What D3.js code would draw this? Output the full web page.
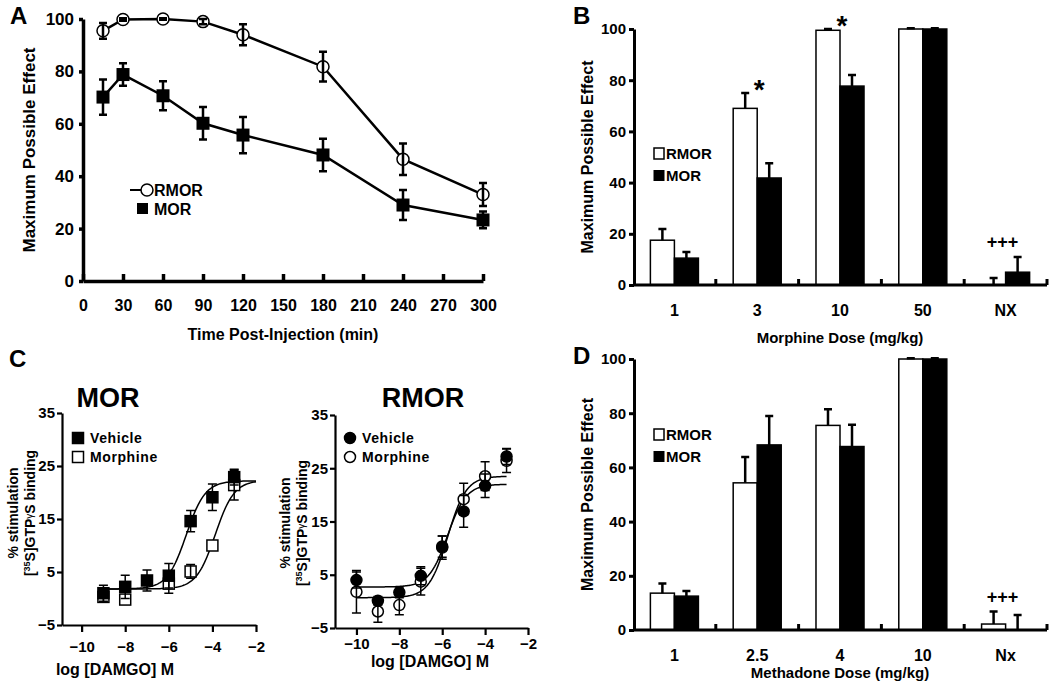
<!DOCTYPE html>
<html>
<head>
<meta charset="utf-8">
<script src="https://cdn.jsdelivr.net/npm/d3@7"></script>
<style>
body { margin: 0; background: #fff; }
text { font-family: "Liberation Sans", Arial, Helvetica, sans-serif; font-weight: bold; fill: #000; }
</style>
</head>
<body>
<script>
// ---- panel A : time course ----
var timeA = [15, 30, 60, 90, 120, 180, 240, 300];
var rmorA = [95.5, 99.8, 100, 99, 94, 81.8, 46.5, 33];
var rmorAErr = [3, 0.5, 0.3, 1, 4, 5.7, 6, 4.4];
var morA = [70.2, 78.8, 70.7, 60.2, 55.7, 48.1, 29, 23.3];
var morAErr = [6.7, 4.3, 5.5, 6.2, 6.9, 6.2, 5.7, 3.2];
var ticksA = d3.range(0, 301, 30);

// ---- panel B : morphine dose ----
var doseB = ["1", "3", "10", "50", "NX"];
var rmorB = [17.5, 69, 99.5, 100, 0];
var rmorBErr = [4.4, 6, 0.5, 0.3, 2.7];
var morB = [10.5, 41.8, 77.7, 100, 5];
var morBErr = [2.4, 5.8, 4.3, 0.3, 5.9];
var sigB = ["", "*", "*", "", "+++"];

// ---- panel D : methadone dose ----
var doseD = ["1", "2.5", "4", "10", "Nx"];
var rmorD = [13.6, 54.3, 75.5, 100, 2.2];
var rmorDErr = [3.6, 9.5, 6, 0.3, 4.6];
var morD = [12.5, 68.3, 67.7, 100, 0];
var morDErr = [1.9, 10.7, 8, 0.3, 5.5];
var sigD = ["", "", "", "", "+++"];

// ---- panel C : [35S]GTPgS binding, log [DAMGO] M ----
var logMorC = [-9, -8, -7, -6, -5, -4, -3];
var morVeh = [1, 2.2, 3.4, 4.3, 14.6, 19.1, 22.9];
var morVehErr = [1.5, 2.2, 2, 2.3, 2, 2.5, 1.5];
var logMorM = [-9, -8, -6, -5, -4, -3];
var morMor = [0.3, -0.2, 2.8, 5.1, 10, 21.4];
var morMorErr = [1, 0, 1.8, 1.3, 0, 2.8];
var morVehFit = [1.8, 22.2, -5.2];   // bottom, top, logEC50
var morMorFit = [1.8, 22.3, -3.87];

var logRmorC = [-10, -9, -8, -7, -6, -5, -4, -3];
var rmorVeh = [4, 0.1, 1.7, 4.8, 10.3, 16.9, 21.7, 27.2];
var rmorVehErr = [1.5, 0.8, 1, 1.7, 2, 3, 2.2, 1.5];
var rmorMor = [1.8, -1.9, -0.7, 3.7, 10.1, 19.2, 23.5, 26.4];
var rmorMorErr = [4, 2, 1.8, 2.5, 2.2, 3, 2.7, 2.2];
var rmorVehFit = [2.7, 22.0, -5.75];
var rmorMorFit = [0.7, 23.5, -5.75];

var svg = d3.select("body").append("svg")
    .attr("width", 1050)
    .attr("height", 688)
    .style("background", "#fff");

function styleAxis(g, w, fs) {
  g.select(".domain").attr("stroke-width", w);
  g.selectAll(".tick line").attr("stroke-width", w);
  g.selectAll(".tick text").attr("font-size", fs).attr("fill", "#000");
}

function letter(t, x, y) {
  svg.append("text").attr("x", x).attr("y", y).attr("font-size", 24).text(t);
}

function errBars(g, xs, ys, es, x, y, cap, w) {
  g.selectAll(null)
    .data(xs.map(function(d, i) { return {x: d, y: ys[i], e: es[i]}; }).filter(function(d) { return d.e > 0; }))
    .enter().append("path")
      .attr("fill", "none")
      .attr("stroke", "#000")
      .attr("stroke-width", w)
      .attr("d", function(d) {
        var px = x(d.x), y0 = y(d.y - d.e), y1 = y(d.y + d.e);
        return "M" + px + "," + y0 + "V" + y1 +
          "M" + (px - cap / 2) + "," + y0 + "H" + (px + cap / 2) +
          "M" + (px - cap / 2) + "," + y1 + "H" + (px + cap / 2);
      });
}

// ================= A =================
letter("A", 10, 24);
var xA = d3.scaleLinear().domain([0, 300]).range([83, 483]);
var yA = d3.scaleLinear().domain([0, 100]).range([281, 19]);

var gAx = svg.append("g").attr("transform", "translate(0,281)")
  .call(d3.axisBottom(xA).tickValues(ticksA).tickSizeInner(-7).tickSizeOuter(0).tickPadding(19));
styleAxis(gAx, 3.5, 16);
var gAy = svg.append("g").attr("transform", "translate(83,0)")
  .call(d3.axisLeft(yA).tickValues(d3.range(0, 101, 20)).tickSizeInner(4).tickSizeOuter(0).tickPadding(5));
styleAxis(gAy, 3.5, 17);

svg.append("text").attr("x", 283).attr("y", 340).attr("text-anchor", "middle")
  .attr("font-size", 16).text("Time Post-Injection (min)");
svg.append("text").attr("transform", "translate(35,150) rotate(-90)").attr("text-anchor", "middle")
  .attr("font-size", 17).text("Maximum Possible Effect");

var lineA = d3.line().x(function(d) { return xA(d[0]); }).y(function(d) { return yA(d[1]); });
var gA = svg.append("g");
gA.append("path").datum(d3.zip(timeA, rmorA)).attr("d", lineA)
  .attr("fill", "none").attr("stroke", "#000").attr("stroke-width", 2.5);
gA.append("path").datum(d3.zip(timeA, morA)).attr("d", lineA)
  .attr("fill", "none").attr("stroke", "#000").attr("stroke-width", 2.5);

gA.selectAll(".msq").data(d3.zip(timeA, morA)).enter().append("rect")
  .attr("x", function(d) { return xA(d[0]) - 6.5; })
  .attr("y", function(d) { return yA(d[1]) - 6.5; })
  .attr("width", 13).attr("height", 13).attr("fill", "#000");
gA.selectAll(".rci").data(d3.zip(timeA, rmorA)).enter().append("circle")
  .attr("cx", function(d) { return xA(d[0]); })
  .attr("cy", function(d) { return yA(d[1]); })
  .attr("r", 6).attr("fill", "#fff").attr("stroke", "#000").attr("stroke-width", 1.5);
errBars(gA, timeA, morA, morAErr, xA, yA, 8, 2.5);
errBars(gA, timeA, rmorA, rmorAErr, xA, yA, 8, 2.5);

// legend A
svg.append("line").attr("x1", 130).attr("x2", 147).attr("y1", 190).attr("y2", 190)
  .attr("stroke", "#000").attr("stroke-width", 2);
svg.append("circle").attr("cx", 147).attr("cy", 190).attr("r", 6)
  .attr("fill", "#fff").attr("stroke", "#000").attr("stroke-width", 1.5);
svg.append("text").attr("x", 154).attr("y", 196).attr("font-size", 16).text("RMOR");
svg.append("rect").attr("x", 137).attr("y", 203).attr("width", 11).attr("height", 11).attr("fill", "#000");
svg.append("text").attr("x", 154).attr("y", 215).attr("font-size", 16).text("MOR");

// ================= B and D : bars =================
function barPanel(cats, rm, rmE, mo, moE, sig, y0, y1, xTitle, titleY, legY) {
  var x = d3.scaleBand().domain(cats).range([633, 1047]).paddingInner(0.42).paddingOuter(0.21);
  var xs = d3.scaleBand().domain(["RMOR", "MOR"]).range([0, x.bandwidth()]);
  var y = d3.scaleLinear().domain([0, 100]).range([y0, y1]);
  var g = svg.append("g");

  var flat = [];
  cats.forEach(function(c, i) {
    flat.push({c: c, s: "RMOR", v: rm[i], e: rmE[i]});
    flat.push({c: c, s: "MOR", v: mo[i], e: moE[i]});
  });

  g.selectAll(".bar").data(flat).enter().append("rect")
    .attr("x", function(d) { return x(d.c) + xs(d.s); })
    .attr("y", function(d) { return y(d.v); })
    .attr("width", xs.bandwidth())
    .attr("height", function(d) { return y(0) - y(d.v); })
    .attr("fill", function(d) { return d.s === "MOR" ? "#000" : "#fff"; })
    .attr("stroke", "#000").attr("stroke-width", 1.5);

  g.selectAll(".err").data(flat.filter(function(d) { return d.e > 0; })).enter().append("path")
    .attr("fill", "none").attr("stroke", "#000").attr("stroke-width", 2.5)
    .attr("d", function(d) {
      var px = x(d.c) + xs(d.s) + xs.bandwidth() / 2, top = y(d.v + d.e);
      return "M" + px + "," + y(d.v) + "V" + top + "M" + (px - 4) + "," + top + "H" + (px + 4);
    });

  // significance marks above the taller bar of each group
  g.selectAll(".sig").data(cats.map(function(c, i) {
      return {c: c, s: sig[i], top: Math.max(rm[i] + rmE[i], mo[i] + moE[i])};
    }).filter(function(d) { return d.s; }))
    .enter().append("text")
      .attr("text-anchor", "middle")
      .attr("x", function(d) { return x(d.c) + x.bandwidth() / 2 + (d.s === "*" ? 2 : -3); })
      .attr("y", function(d) { return d.s === "*" ? y(d.top) + 6 : y(d.top) - 9; })
      .attr("font-size", function(d) { return d.s === "*" ? 28 : 18; })
      .text(function(d) { return d.s; });

  // axes
  var gx = svg.append("g").attr("transform", "translate(0," + y0 + ")");
  gx.append("path").attr("d", "M634,0H1047").attr("stroke", "#000").attr("stroke-width", 3);
  gx.selectAll(".bt").data(cats).enter().append("line")
    .attr("x1", function(d) { return x(d) + x.bandwidth() + x.step() * 0.21; })
    .attr("x2", function(d) { return x(d) + x.bandwidth() + x.step() * 0.21; })
    .attr("y1", 0).attr("y2", -6).attr("stroke", "#000").attr("stroke-width", 3);
  gx.selectAll(".lab").data(cats).enter().append("text")
    .attr("x", function(d) { return x(d) + x.bandwidth() / 2; })
    .attr("y", 31).attr("text-anchor", "middle").attr("font-size", 16)
    .text(function(d) { return d; });
  var gy = svg.append("g").attr("transform", "translate(634,0)")
    .call(d3.axisLeft(y).tickValues(d3.range(0, 101, 20)).tickSizeInner(5).tickSizeOuter(0).tickPadding(3));
  styleAxis(gy, 3, 15);

  svg.append("text").attr("x", 840).attr("y", titleY).attr("text-anchor", "middle")
    .attr("font-size", 15).text(xTitle);
  svg.append("text").attr("transform", "translate(593," + ((y0 + y1) / 2) + ") rotate(-90)")
    .attr("text-anchor", "middle").attr("font-size", 16).text("Maximum Possible Effect");

  // legend
  svg.append("rect").attr("x", 654).attr("y", legY - 11).attr("width", 10).attr("height", 11)
    .attr("fill", "#fff").attr("stroke", "#000").attr("stroke-width", 1.5);
  svg.append("text").attr("x", 666).attr("y", legY).attr("font-size", 15).text("RMOR");
  svg.append("rect").attr("x", 653.5).attr("y", legY + 11).attr("width", 11).attr("height", 11).attr("fill", "#000");
  svg.append("text").attr("x", 666).attr("y", legY + 22).attr("font-size", 15).text("MOR");
}

letter("B", 573, 24);
barPanel(doseB, rmorB, rmorBErr, morB, morBErr, sigB, 285, 29, "Morphine Dose (mg/kg)", 343, 159);
letter("D", 573, 364);
barPanel(doseD, rmorD, rmorDErr, morD, morDErr, sigD, 630, 359, "Methadone Dose (mg/kg)", 678, 440);

// ================= C : concentration response =================
function sigmoid(p) {
  return function(lx) { return p[0] + (p[1] - p[0]) / (1 + Math.pow(10, p[2] - lx)); };
}

function concPanel(cfg) {
  var x = d3.scaleLinear().domain([cfg.xmin, -2]).range([cfg.x0, cfg.x1]);
  var y = d3.scaleLinear().domain([-5, 35]).range([cfg.y0, cfg.y1]);
  var g = svg.append("g");

  var gx = svg.append("g").attr("transform", "translate(0," + cfg.y0 + ")")
    .call(d3.axisBottom(x).tickValues([-10, -8, -6, -4, -2]).tickSizeInner(7).tickSizeOuter(0).tickPadding(cfg.xpad));
  styleAxis(gx, 2.2, 15);
  var gy = svg.append("g").attr("transform", "translate(" + cfg.x0 + ",0)")
    .call(d3.axisLeft(y).tickValues([-5, 5, 15, 25, 35]).tickSizeInner(5).tickSizeOuter(0).tickPadding(2));
  styleAxis(gy, 2.2, 15);

  // fitted sigmoid curves
  var line = d3.line().x(function(d) { return x(d); });
  cfg.fits.forEach(function(p) {
    var f = sigmoid(p);
    g.append("path").datum(d3.range(cfg.fitFrom, cfg.fitTo + 0.001, 0.05))
      .attr("d", line.y(function(d) { return y(f(d)); }))
      .attr("fill", "none").attr("stroke", "#000").attr("stroke-width", 1.5);
  });

  function drawSet(xs, ys, es, filled) {
    var sel = g.append("g").selectAll(null).data(d3.zip(xs, ys)).enter();
    var m = cfg.shape === "square"
      ? sel.append("rect")
          .attr("x", function(d) { return x(d[0]) - 5.5; }).attr("y", function(d) { return y(d[1]) - 5.5; })
          .attr("width", 11).attr("height", 11)
      : sel.append("circle")
          .attr("cx", function(d) { return x(d[0]); }).attr("cy", function(d) { return y(d[1]); })
          .attr("r", 5.5);
    m.attr("fill", filled ? "#000" : "#fff").attr("stroke", "#000").attr("stroke-width", 1.5);
    errBars(g, xs, ys, es, x, y, 9, 1.5);
  }
  drawSet(cfg.mx, cfg.mor, cfg.morErr, false);
  drawSet(cfg.vx, cfg.veh, cfg.vehErr, true);

  svg.append("text").attr("x", cfg.titleX).attr("y", 407).attr("text-anchor", "middle")
    .attr("font-size", 27).text(cfg.title);
  svg.append("text").attr("x", cfg.titleX + 7).attr("y", cfg.xlabY).attr("text-anchor", "middle")
    .attr("font-size", 16).text("log [DAMGO] M");

  var lab = svg.append("g").attr("transform", "translate(" + cfg.ylabX + "," + cfg.ylabY + ") rotate(-90)");
  lab.append("text").attr("text-anchor", "middle").attr("font-size", 14).text("% stimulation");
  var l2 = lab.append("text").attr("y", 17).attr("text-anchor", "middle").attr("font-size", 14);
  l2.append("tspan").text("[");
  l2.append("tspan").attr("font-size", 9).attr("dy", -5).text("35");
  l2.append("tspan").attr("dy", 5).text("S]GTP");
  l2.append("tspan").attr("font-size", 10).attr("font-weight", "normal").attr("dy", -2).text("\u03B3");
  l2.append("tspan").attr("dy", 2).text("S binding");

  // legend
  var lx = cfg.legX, ly = [438, 457];
  [true, false].forEach(function(filled, i) {
    if (cfg.shape === "square") {
      svg.append("rect").attr("x", lx - 5.5).attr("y", ly[i] - 5.5).attr("width", 11).attr("height", 11)
        .attr("fill", filled ? "#000" : "#fff").attr("stroke", "#000").attr("stroke-width", 1.5);
    } else {
      svg.append("circle").attr("cx", lx).attr("cy", ly[i]).attr("r", 5.5)
        .attr("fill", filled ? "#000" : "#fff").attr("stroke", "#000").attr("stroke-width", 1.5);
    }
    svg.append("text").attr("x", lx + 12).attr("y", ly[i] + 5).attr("font-size", 14)
      .attr("letter-spacing", 0.6).text(filled ? "Vehicle" : "Morphine");
  });
}

letter("C", 9, 367);
concPanel({
  title: "MOR", titleX: 108, xmin: -10.9, x0: 62, x1: 256, y0: 625, y1: 413, xpad: 9, xlabY: 675,
  ylabX: 18, ylabY: 513, legX: 78, shape: "square", fitFrom: -9.2, fitTo: -2,
  fits: [morVehFit, morMorFit],
  vx: logMorC, veh: morVeh, vehErr: morVehErr, mx: logMorM, mor: morMor, morErr: morMorErr
});
concPanel({
  title: "RMOR", titleX: 423, xmin: -11, x0: 335, x1: 528, y0: 628, y1: 415, xpad: 3, xlabY: 667,
  ylabX: 290, ylabY: 523, legX: 350, shape: "circle", fitFrom: -10, fitTo: -3,
  fits: [rmorVehFit, rmorMorFit],
  vx: logRmorC, veh: rmorVeh, vehErr: rmorVehErr, mx: logRmorC, mor: rmorMor, morErr: rmorMorErr
});
</script>
</body>
</html>
